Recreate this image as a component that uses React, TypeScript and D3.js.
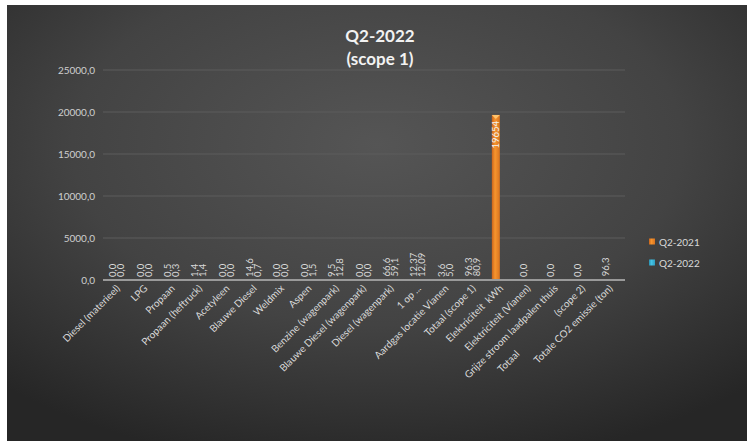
import React from "react";
import * as d3 from "d3";

const categories = [
  "Diesel (materieel)",
  "LPG",
  "Propaan",
  "Propaan (heftruck)",
  "Acetyleen",
  "Blauwe Diesel",
  "Weldmix",
  "Aspen",
  "Benzine (wagenpark)",
  "Blauwe Diesel (wagenpark)",
  "Diesel (wagenpark)",
  "1 op ...",
  "Aardgas locatie Vianen",
  "Totaal (scope 1)",
  "Elektriciteit  kWh",
  "Elektriciteit (Vianen)",
  "Grijze stroom laadpalen thuis",
  "Totaal                     (scope 2)",
  "Totale CO2 emissie (ton)",
];

const q2021: (number | null)[] = [0, 0, 0.5, 1.4, 0, 14.6, 0, 0, 9.5, 0, 66.6, 12.37, 3.6, 96.3, 19654, 0, 0, 0, 96.3];
const q2022: (number | null)[] = [0, 0, 0.3, 1.4, 0, 0.7, 0, 1.5, 12.8, 0, 59.1, 12.09, 5.0, 80.9, null, null, null, null, null];
const decimals = [1, 1, 1, 1, 1, 1, 1, 1, 1, 1, 1, 2, 1, 1, 0, 1, 1, 1, 1];

const seriesNames = ["Q2-2021", "Q2-2022"];
const yTicks = [0, 5000, 10000, 15000, 20000, 25000];

const W = 747;
const H = 441;
const FONT = "Lato, 'Open Sans', 'DejaVu Sans', sans-serif";

const fmt = (v: number, d: number) => v.toFixed(d).replace(".", ",");

export default function App() {
  const x = d3.scaleBand<string>().domain(categories.map((_, i) => String(i))).range([103, 623]);
  const y = d3.scaleLinear().domain([0, 25000]).range([280, 70]);
  const barW = 8;
  const series = [q2021, q2022];

  return (
    <svg width={W} height={H} style={{ position: "absolute", left: 0, top: 0, background: "#ffffff" }}>
      <defs>
        <radialGradient id="bg" cx="0.5" cy="0.32" r="0.75">
          <stop offset="0" stopColor="#555555" />
          <stop offset="0.55" stopColor="#434343" />
          <stop offset="1" stopColor="#262626" />
        </radialGradient>
        <linearGradient id="g0" x1="0" x2="1" y1="0" y2="0">
          <stop offset="0" stopColor="#c9641c" />
          <stop offset="0.4" stopColor="#f7952e" />
          <stop offset="1" stopColor="#d9731f" />
        </linearGradient>
        <linearGradient id="g1" x1="0" x2="1" y1="0" y2="0">
          <stop offset="0" stopColor="#2a8fb0" />
          <stop offset="0.4" stopColor="#45c3e6" />
          <stop offset="1" stopColor="#2e9fc2" />
        </linearGradient>
      </defs>
      <rect x={7} y={5} width={W - 7} height={H - 5} fill="url(#bg)" />

      <text x={380} y={42} textAnchor="middle" fill="#f2f2f2" fontFamily={FONT} fontWeight="bold" fontSize={17}>
        Q2-2022
      </text>
      <text x={380} y={65} textAnchor="middle" fill="#f2f2f2" fontFamily={FONT} fontWeight="bold" fontSize={17}>
        (scope 1)
      </text>

      {yTicks.map((t) => (
        <g key={t}>
          {t > 0 && <line x1={103} x2={625} y1={y(t)} y2={y(t)} stroke="#5c5c5c" strokeWidth={1} />}
          <text x={95} y={y(t) + 3.5} textAnchor="end" fill="#cfcfcf" fontFamily={FONT} fontSize={10}>
            {fmt(t, 1)}
          </text>
        </g>
      ))}

      {series.map((s, si) =>
        s.map((v, i) => {
          if (v === null) return null;
          const cx = (x(String(i)) as number) + x.bandwidth() / 2 - barW + si * barW;
          const top = y(v);
          const h = Math.max(0, y(0) - top);
          return (
            <g key={`b${si}-${i}`}>
              {h > 0.5 && <rect x={cx} y={top} width={barW} height={h} fill={`url(#g${si})`} />}
              {h > 3 && (
                <path
                  d={`M${cx},${top} L${cx + barW},${top} L${cx + barW / 2},${top + 4} Z`}
                  fill={si === 0 ? "#ffc36b" : "#9be6fa"}
                />
              )}
            </g>
          );
        })
      )}

      <line x1={103} x2={625} y1={y(0)} y2={y(0)} stroke="#9a9a9a" strokeWidth={2} />

      {series.map((s, si) =>
        s.map((v, i) => {
          if (v === null) return null;
          const cx = (x(String(i)) as number) + x.bandwidth() / 2 - barW + si * barW + barW / 2;
          const label = fmt(v, decimals[i]);
          const inside = y(0) - y(v) > 60;
          const ty = inside ? y(v) + 6 : y(v) - 3;
          return (
            <text
              key={`l${si}-${i}`}
              transform={`translate(${cx + 3.5},${ty}) rotate(-90)`}
              textAnchor={inside ? "end" : "start"}
              fill={inside ? "#f2f2f2" : "#d9d9d9"}
              fontFamily={FONT}
              fontSize={9.5}
            >
              {label}
            </text>
          );
        })
      )}

      {categories.map((c, i) => {
        const cx = (x(String(i)) as number) + x.bandwidth() / 2;
        return (
          <text
            key={`c${i}`}
            transform={`translate(${cx + 4},${y(0) + 9}) rotate(-45)`}
            textAnchor="end"
            fill="#d9d9d9"
            fontFamily={FONT}
            fontSize={10}
            style={{ whiteSpace: "pre" }}
          >
            {c}
          </text>
        );
      })}

      {seriesNames.map((n, i) => (
        <g key={n} transform={`translate(649,${242 + i * 21})`}>
          <rect x={0} y={-3.5} width={6} height={6} fill={`url(#g${i})`} />
          <text x={10} y={3.5} fill="#d9d9d9" fontFamily={FONT} fontSize={10}>
            {n}
          </text>
        </g>
      ))}
    </svg>
  );
}
